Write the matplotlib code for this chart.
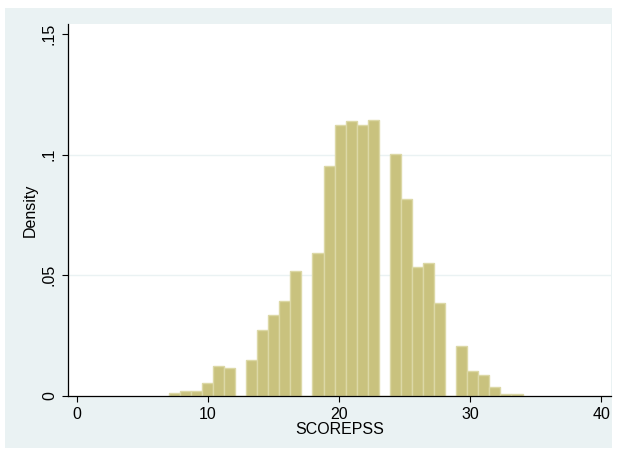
import numpy as np
import matplotlib.pyplot as plt
from matplotlib.patches import Rectangle

plt.rcParams['font.family'] = ['Liberation Sans', 'DejaVu Sans']

# histogram of SCOREPSS: 32 equal bins spanning 7..34 (empty bins hold no integer score)
bin_lo = 7
bin_hi = 34
n_bins = 32
density = [0.0014, 0.0021, 0.0021, 0.0053, 0.0124, 0.0116, 0.0, 0.0148,
           0.0273, 0.0334, 0.0394, 0.0518, 0.0, 0.0594, 0.0951, 0.1123,
           0.1138, 0.1123, 0.1143, 0.0, 0.1002, 0.0816, 0.0534, 0.0550,
           0.0384, 0.0, 0.0207, 0.0104, 0.0087, 0.0037, 0.0008, 0.0008]

xticks = [0, 10, 20, 30, 40]
yticks = [0, 0.05, 0.10, 0.15]
ytick_labels = ['0', '.05', '.1', '.15']

bg = '#EAF2F3'
bar_fill = '#C9C27E'
bar_edge = '#DCD8A6'

fig = plt.figure(figsize=(6.17, 4.5), dpi=100)
fig.patch.set_facecolor('white')
W, H = 617, 450
# graph region behind the plot area
fig.patches.append(Rectangle((5 / W, 2 / H), 607 / W, 440 / H, transform=fig.transFigure,
                             facecolor=bg, edgecolor='none', zorder=-10))

ax = fig.add_axes([68 / W, 1 - 396 / H, (611 - 68) / W, (396 - 24) / H])
ax.set_facecolor('white')

edges = np.linspace(bin_lo, bin_hi, n_bins + 1)
width = edges[1] - edges[0]
ax.bar(edges[:-1], density, width=width, align='edge', color=bar_fill,
       edgecolor=bar_edge, linewidth=1.0, zorder=3)

ax.set_xlim(-0.69, 40.75)
ax.set_ylim(0, 0.1541)
ax.set_xticks(xticks)
ax.set_yticks(yticks)
ax.set_yticklabels(ytick_labels, rotation=90, va='center')

# grid at the inner labelled values only
for y in yticks[1:-1]:
    ax.axhline(y, color=bg, linewidth=1.0, zorder=1)

for side in ['top', 'right']:
    ax.spines[side].set_visible(False)
for side in ['left', 'bottom']:
    ax.spines[side].set_linewidth(0.9)
    ax.spines[side].set_color('black')
    ax.spines[side].set_zorder(4)

ax.tick_params(axis='both', direction='out', length=4, width=0.8,
               labelsize=11.5, colors='black', pad=4)
ax.set_xlabel('SCOREPSS', fontsize=11.5, labelpad=0)
ax.set_ylabel('Density', fontsize=11.5, labelpad=3)

fig.savefig('out.png', dpi=100, facecolor=fig.get_facecolor())
